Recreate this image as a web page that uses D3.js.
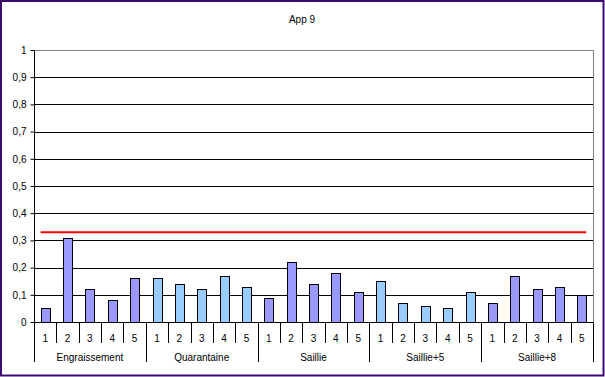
<!DOCTYPE html>
<html>
<head>
<meta charset="utf-8">
<script src="https://cdn.jsdelivr.net/npm/d3@7"></script>
<style>
  body { margin: 0; background: #fff; }
  svg text { font-family: "Liberation Sans", Arial, sans-serif; font-size: 10px; fill: #000; }
</style>
</head>
<body>
<div id="chart"></div>
<script>
// groups and the five sub-categories in each
const groups = ["Engraissement", "Quarantaine", "Saillie", "Saillie+5", "Saillie+8"];
const subCats = ["1", "2", "3", "4", "5"];
const groupColors = ["#9999FF", "#99CCFF", "#9999FF", "#99CCFF", "#9999FF"];

const engraissement = [0.05, 0.31, 0.12, 0.08, 0.16];
const quarantaine = [0.16, 0.14, 0.12, 0.17, 0.13];
const saillie = [0.09, 0.22, 0.14, 0.18, 0.11];
const saillie5 = [0.15, 0.07, 0.06, 0.05, 0.11];
const saillie8 = [0.07, 0.17, 0.12, 0.13, 0.10];

const threshold = 0.33;
const yTicks = [0, 0.1, 0.2, 0.3, 0.4, 0.5, 0.6, 0.7, 0.8, 0.9, 1];

const series = [engraissement, quarantaine, saillie, saillie5, saillie8];

// flatten to one row per bar
let rows = [];
groups.forEach((g, gi) => {
    subCats.forEach((c, ci) => {
        rows.push({key: g + "|" + c, group: g, gi: gi, cat: c, value: series[gi][ci]});
    });
});

const W = 605, H = 377;
const margin = {top: 50, right: 12, bottom: 55, left: 34};
const width = 593 - margin.left;
const height = 322 - margin.top;

const svg = d3.select("#chart").append("svg")
    .attr("width", W)
    .attr("height", H);

// outer frame
svg.append("rect")
    .attr("x", 1).attr("y", 1)
    .attr("width", W - 2.5).attr("height", H - 2.5)
    .attr("fill", "#fff")
    .attr("stroke", "#3a0c6e")
    .attr("stroke-width", 2);

svg.append("text")
    .attr("x", 302)
    .attr("y", 23)
    .attr("text-anchor", "middle")
    .text("App 9");

const g = svg.append("g")
    .attr("transform", `translate(${margin.left},${margin.top})`);

const x = d3.scaleBand()
    .domain(rows.map(d => d.key))
    .range([0, width])
    .paddingInner(0.6)
    .paddingOuter(0.3);

const y = d3.scaleLinear()
    .domain([0, 1])
    .range([height, 0]);

// plot border (top/right gray)
g.append("path")
    .attr("d", `M0.5,${y(1) + 0.5}H${width + 0.5}V${height}`)
    .attr("fill", "none")
    .attr("stroke", "#808080");

// gridlines
g.selectAll(".grid")
    .data(yTicks.filter(t => t > 0 && t < 1))
    .enter().append("line")
    .attr("class", "grid")
    .attr("x1", 0).attr("x2", width)
    .attr("y1", d => Math.round(y(d)) + 0.5)
    .attr("y2", d => Math.round(y(d)) + 0.5)
    .attr("stroke", "#000");

// y axis
const yAxis = g.append("g")
    .attr("transform", "translate(0.5,0)")
    .call(d3.axisLeft(y).tickValues(yTicks).tickSize(4)
        .tickFormat(d => d3.format("~g")(d).replace(".", ",")));
yAxis.select(".domain").attr("d", `M-0.5,${y(1) + 0.5}H0V${height + 40}`).attr("stroke", "#000");
yAxis.selectAll(".tick line").attr("stroke", "#000");
yAxis.selectAll(".tick text")
    .attr("x", -8)
    .style("font-family", "Liberation Sans, Arial, sans-serif")
    .style("font-size", "10px");

// bars
g.selectAll(".bar")
    .data(rows)
    .enter().append("rect")
    .attr("class", "bar")
    .attr("x", d => Math.round(x(d.key)) + 0.5)
    .attr("y", d => Math.round(y(d.value)) + 0.5)
    .attr("width", Math.round(x.bandwidth()))
    .attr("height", d => height - Math.round(y(d.value)))
    .attr("fill", d => groupColors[d.gi])
    .attr("stroke", "#000")
    .attr("stroke-width", 1);

// threshold line
g.append("line")
    .attr("x1", x(rows[0].key))
    .attr("x2", x(rows[rows.length - 1].key) + x.bandwidth())
    .attr("y1", y(threshold))
    .attr("y2", y(threshold))
    .attr("stroke", "#FF0000")
    .attr("stroke-width", 2);

// x axis line
g.append("line")
    .attr("x1", 0).attr("x2", width + 0.5)
    .attr("y1", height + 0.5).attr("y2", height + 0.5)
    .attr("stroke", "#000");

const step = x.step();
const catStart = i => x(rows[i].key) - x.paddingInner() * step / 2;

// separators between sub-categories
g.selectAll(".sep")
    .data(rows.map((d, i) => i).slice(1))
    .enter().append("line")
    .attr("class", "sep")
    .attr("x1", i => Math.round(catStart(i)) + 0.5)
    .attr("x2", i => Math.round(catStart(i)) + 0.5)
    .attr("y1", height)
    .attr("y2", i => (i % 5 === 0) ? height + 40 : height + 21)
    .attr("stroke", "#000");

// right end
g.append("line")
    .attr("x1", width + 0.5).attr("x2", width + 0.5)
    .attr("y1", height).attr("y2", height + 40)
    .attr("stroke", "#000");

// sub-category labels
g.selectAll(".subLabel")
    .data(rows)
    .enter().append("text")
    .attr("class", "subLabel")
    .attr("x", d => x(d.key) + x.bandwidth() / 2)
    .attr("y", height + 20)
    .attr("text-anchor", "middle")
    .text(d => d.cat);

// group labels
g.selectAll(".groupLabel")
    .data(groups)
    .enter().append("text")
    .attr("class", "groupLabel")
    .attr("x", (d, i) => (i * 5 + 2.5) * step)
    .attr("y", height + 39)
    .attr("text-anchor", "middle")
    .text(d => d);
</script>
</body>
</html>
